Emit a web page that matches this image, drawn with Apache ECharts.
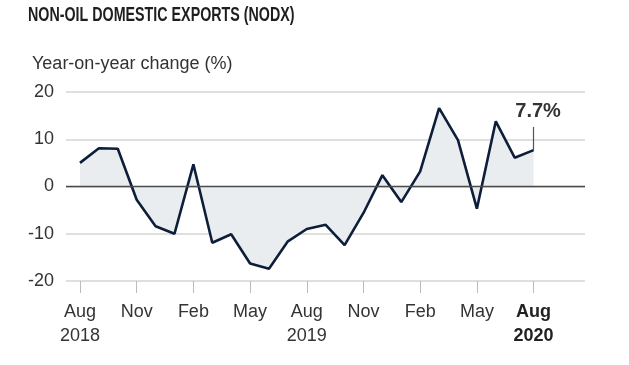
<!DOCTYPE html>
<html>
<head>
<meta charset="utf-8">
<script src="https://cdn.jsdelivr.net/npm/echarts@6/dist/echarts.min.js"></script>
<style>
html,body{margin:0;padding:0;background:#fff;}
#c{width:629px;height:365px;}
</style>
</head>
<body>
<div id="c"></div>
<script>
// Month index 0 = Aug 2018 ... 24 = Aug 2020
const months = ['Aug 2018','Sep 2018','Oct 2018','Nov 2018','Dec 2018','Jan 2019','Feb 2019','Mar 2019','Apr 2019','May 2019','Jun 2019','Jul 2019','Aug 2019','Sep 2019','Oct 2019','Nov 2019','Dec 2019','Jan 2020','Feb 2020','Mar 2020','Apr 2020','May 2020','Jun 2020','Jul 2020','Aug 2020'];
const nodx = [5.0, 8.1, 8.0, -2.8, -8.4, -10.0, 4.7, -11.9, -10.1, -16.3, -17.4, -11.6, -9.0, -8.1, -12.4, -5.6, 2.4, -3.3, 3.2, 16.6, 9.8, -4.7, 13.8, 6.1, 7.7];
const tickPositions = [0, 3, 6, 9, 12, 15, 18, 21, 24];
const tickLabels = ['Aug\n2018','Nov','Feb','May','Aug\n2019','Nov','Feb','May','Aug\n2020'];
const yTicks = [-20, -10, 0, 10, 20];
const titleText = 'NON-OIL DOMESTIC EXPORTS (NODX)';
const subtitleText = 'Year-on-year change (%)';
const latestLabel = '7.7%';

const FONT = '"Liberation Sans", Arial, sans-serif';

const chart = echarts.init(document.getElementById('c'), null, {renderer: 'canvas'});
const seriesData = nodx.map((v, i) => [i, v]);
const last = nodx.length - 1;

chart.setOption({
  animation: false,
  backgroundColor: '#fff',
  title: [
    {text: subtitleText, left: 27, top: 50,
     textStyle: {fontFamily: FONT, fontWeight: 'normal', fontSize: 18, color: '#333'}}
  ],
  graphic: [{
    type: 'text', left: 28, top: 5, scaleX: 0.68, originX: 0,
    style: {text: titleText, font: 'bold 21px "Liberation Sans", Arial, sans-serif', fill: '#1e1e1e'}
  }],
  grid: {left: 66, right: 44, top: 92, bottom: 84, containLabel: false},
  xAxis: {
    type: 'value', min: -0.74, max: 26.72,
    axisLine: {show: false, onZero: false},
    splitLine: {show: false},
    axisTick: {show: true, customValues: tickPositions, length: 12, inside: false,
               lineStyle: {color: '#bbb', width: 1}},
    axisLabel: {
      customValues: tickPositions, margin: 19, fontFamily: FONT, fontSize: 18,
      color: '#333', lineHeight: 24,
      formatter: function (v) {
        const i = tickPositions.indexOf(Math.round(v));
        const t = i >= 0 ? tickLabels[i] : '';
        if (i === tickPositions.length - 1) {
          return t.split('\n').map(s => '{b|' + s + '}').join('\n');
        }
        return t;
      },
      rich: {b: {fontWeight: 'bold', fontFamily: FONT, fontSize: 18, color: '#222', lineHeight: 24}}
    }
  },
  yAxis: {
    type: 'value', min: yTicks[0], max: yTicks[yTicks.length - 1], interval: 10,
    axisLine: {show: false}, axisTick: {show: false},
    axisLabel: {fontFamily: FONT, fontSize: 18, color: '#333', margin: 12},
    splitLine: {show: true, lineStyle: {color: '#d4d4d4', width: 1.5}}
  },
  series: [{
    type: 'line',
    data: seriesData,
    symbol: 'none',
    lineStyle: {color: '#0e1e3a', width: 2.6},
    areaStyle: {color: '#e9edef', opacity: 1, origin: 0},
    z: 3
  }, {
    type: 'line',
    data: [],
    z: 8,
    markLine: {
      silent: true, symbol: 'none', z: 8,
      label: {show: false},
      lineStyle: {color: '#4a4a4a', width: 1.3, type: 'solid'},
      data: [{yAxis: 0}]
    }
  }, {
    type: 'line',
    data: [],
    z: 6,
    markLine: {
      silent: true, symbol: 'none',
      lineStyle: {color: '#555', width: 1.2, type: 'solid'},
      label: {show: true, position: 'end', formatter: latestLabel, fontFamily: FONT,
              fontWeight: 'bold', fontSize: 20, color: '#333', distance: 5,
              padding: [0, 0, 0, 9]},
      data: [[{coord: [last, nodx[last]]}, {coord: [last, 12.6]}]]
    }
  }]
});
</script>
</body>
</html>
